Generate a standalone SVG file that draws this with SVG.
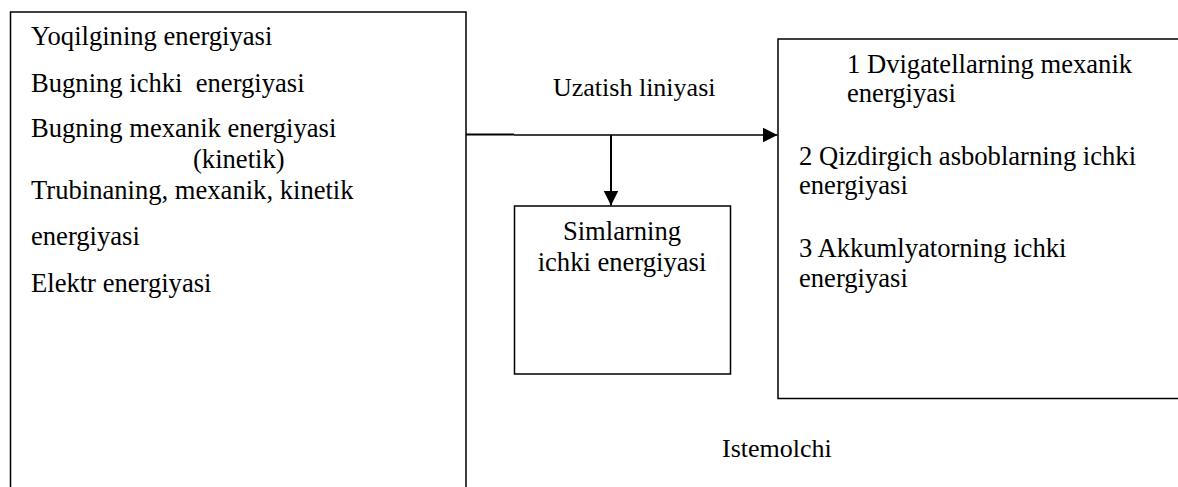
<svg xmlns="http://www.w3.org/2000/svg" width="1178" height="487" viewBox="0 0 1178 487">
  <style>
    .box { fill: #ffffff; stroke: #000000; stroke-width: 1.5; }
    .t { font-family: "Liberation Serif", "Times New Roman", serif; font-size: 26.6px; fill: #000000; white-space: pre; }
    .s { font-size: 26px; }
    .c { text-anchor: middle; }
    .ln { stroke: #000000; fill: none; }
  </style>
  <defs>
    <marker id="arr" markerWidth="16" markerHeight="16" refX="15" refY="7.5" orient="auto" markerUnits="userSpaceOnUse">
      <path d="M0,0 L15,7.5 L0,15 Z" fill="#000000"/>
    </marker>
  </defs>
  <rect width="1178" height="487" fill="#ffffff"/>

  <g id="node-source">
    <rect class="box" x="10.5" y="12" width="455.5" height="500"/>
    <text class="t" x="31" y="45">Yoqilgining energiyasi</text>
    <text class="t" x="31" y="92" xml:space="preserve">Bugning ichki  energiyasi</text>
    <text class="t" x="31" y="137">Bugning mexanik energiyasi</text>
    <text class="t" x="193" y="168">(kinetik)</text>
    <text class="t" x="31" y="199">Trubinaning, mexanik, kinetik</text>
    <text class="t" x="31" y="245">energiyasi</text>
    <text class="t" x="31" y="292">Elektr energiyasi</text>
  </g>

  <g id="node-wires">
    <rect class="box" x="514.5" y="206" width="216" height="168"/>
    <text class="t c" x="622" y="240">Simlarning</text>
    <text class="t c" x="622" y="271">ichki energiyasi</text>
  </g>

  <g id="node-consumer">
    <rect class="box" x="778" y="39" width="420" height="359.5"/>
    <text class="t" x="847" y="73">1 Dvigatellarning mexanik</text>
    <text class="t" x="847" y="102">energiyasi</text>
    <text class="t" x="799" y="165">2 Qizdirgich asboblarning ichki</text>
    <text class="t" x="799" y="194">energiyasi</text>
    <text class="t" x="799" y="257">3 Akkumlyatorning ichki</text>
    <text class="t" x="799" y="287">energiyasi</text>
  </g>

  <g id="label-line">
    <text class="t s" x="553" y="96">Uzatish liniyasi</text>
  </g>
  <g id="label-consumer">
    <text class="t s" x="722" y="457">Istemolchi</text>
  </g>

  <g id="connectors">
    <line class="ln" x1="466" y1="134.5" x2="514" y2="134.5" stroke-width="2"/>
    <line class="ln" x1="514" y1="135" x2="777.5" y2="135" stroke-width="1.3" marker-end="url(#arr)"/>
    <line class="ln" x1="611" y1="135" x2="611" y2="205.5" stroke-width="2" marker-end="url(#arr)"/>
  </g>
</svg>
